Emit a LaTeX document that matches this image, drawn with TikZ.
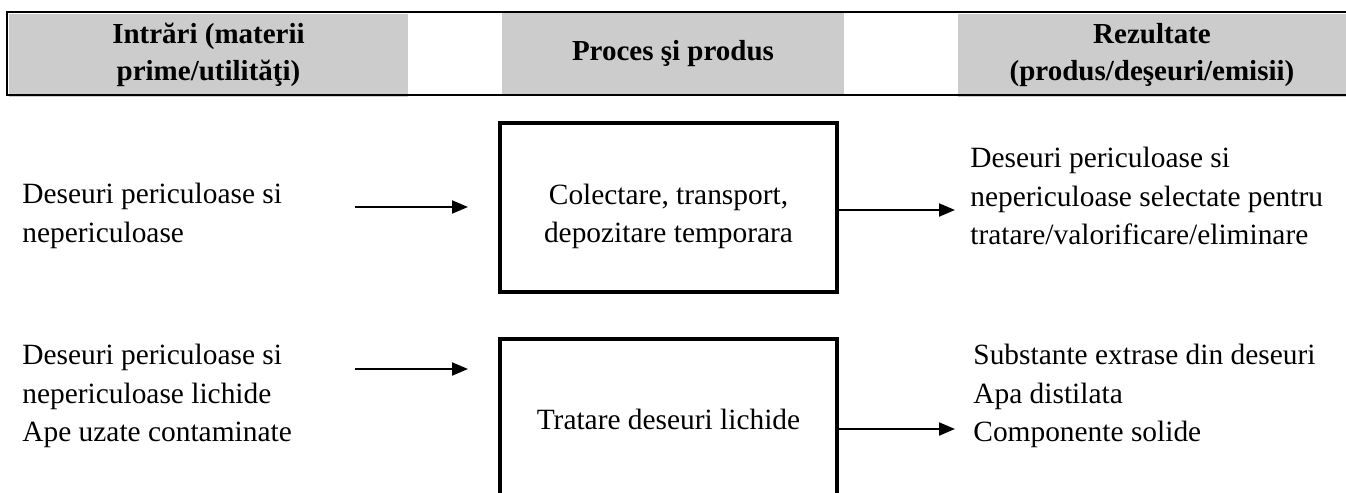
\documentclass[tikz,border=0pt]{standalone}
\usepackage{fontspec}
\setmainfont{Liberation Serif}
\usetikzlibrary{positioning}
\usetikzlibrary{arrows.meta}

\begin{document}
\begin{tikzpicture}
    [
    x=0.5pt, y=-0.5pt,
    cell/.style={fill=gray!40,inner sep=0pt,minimum height=41.5pt,align=center,font=\fontsize{14.5}{18.5}\selectfont\bfseries},
    stage/.style={draw,line width=2pt,inner sep=0pt,minimum width=168.5pt,align=center,font=\fontsize{14.7}{19.25}\selectfont},
    txt/.style={inner sep=0pt,align=left,anchor=west,font=\fontsize{14.7}{19.25}\selectfont},
    flow/.style={line width=1pt,-{Triangle[length=8pt,width=6.5pt]}}
    ]
    \clip (0,0) rectangle (1346,493);
    % header
    \node (hin) at (208.5,55) [cell,minimum width=199.5pt] {Intrări (materii\\prime/utilităţi)};
    \node (hproc) at (673,53.5) [cell,minimum width=171pt] {Proces şi produs};
    \node (hout) at (1152,55) [cell,minimum width=194pt] {Rezultate\\(produs/deşeuri/emisii)};
    \draw [line width=1pt] (1346,12) -- (7,12) -- (7,95) -- (1346,95);
    % stages
    \node (box1) at (668.5,207.5) [stage,minimum height=84.5pt,
      label={[align=center,yshift=-4.5pt,font=\fontsize{14.7}{19.25}\selectfont]center:Colectare, transport,\\depozitare temporara}] {};
    \node (box2) at (668.5,419.5) [stage,minimum height=80.5pt] {Tratare deseuri lichide};
    \node (in1) at (22,216) [txt] {Deseuri periculoase si\\nepericuloase};
    \node (in2) at (22,396) [txt] {Deseuri periculoase si\\nepericuloase lichide\\Ape uzate contaminate};
    \node (out1) at (970,196) [txt] {Deseuri periculoase si\\nepericuloase selectate pentru\\tratare/valorificare/eliminare};
    \node (out2) at (973,396) [txt] {Substante extrase din deseuri\\Apa distilata\\Componente solide};
    \coordinate (src1) at (355,207);
    \coordinate (src2) at (355,369);
    \draw [flow,shorten >=15pt] (src1) -- (src1 -| box1.west);
    \draw [flow,shorten >=15pt] (src2) -- (src2 -| box2.west);
    \draw [flow,shorten >=7.5pt] ([xshift=-1pt,yshift=-1.25pt]box1.east) -- ([yshift=-1.25pt]box1.east -| out1.west);
    \draw [flow,shorten >=9pt] ([xshift=-1pt,yshift=-4.75pt]box2.east) -- ([yshift=-4.75pt]box2.east -| out2.west);
\end{tikzpicture}
\end{document}
